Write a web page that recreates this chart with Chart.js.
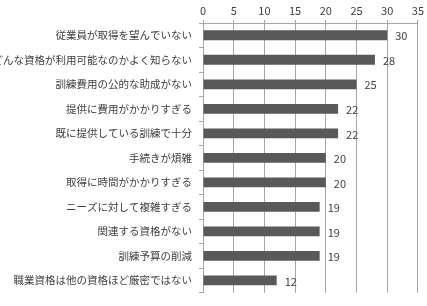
<!DOCTYPE html>
<html>
<head>
<meta charset="utf-8">
<script src="https://cdn.jsdelivr.net/npm/chart.js@4.4.1/dist/chart.umd.min.js"></script>
<style>
  html, body { margin: 0; padding: 0; background: #fff; }
  #wrap { width: 427px; height: 306px; position: relative; }
</style>
</head>
<body>
<div id="wrap"><canvas id="chart"></canvas></div>
<script>
// reasons (top to bottom) and counts
const categories = [
  '従業員が取得を望んでいない',
  'どんな資格が利用可能なのかよく知らない',
  '訓練費用の公的な助成がない',
  '提供に費用がかかりすぎる',
  '既に提供している訓練で十分',
  '手続きが煩雑',
  '取得に時間がかかりすぎる',
  'ニーズに対して複雑すぎる',
  '関連する資格がない',
  '訓練予算の削減',
  '職業資格は他の資格ほど厳密ではない'
];
const counts = [30, 28, 25, 22, 22, 20, 20, 19, 19, 19, 12];
const xTicks = [0, 5, 10, 15, 20, 25, 30, 35];

const FONT = '"Noto Sans CJK JP", "Noto Sans", sans-serif';
const GRID = '#a6a6a6';

// number next to each bar end
const valueLabels = {
  id: 'valueLabels',
  afterDatasetsDraw(chart) {
    const ctx = chart.ctx;
    const meta = chart.getDatasetMeta(0);
    ctx.save();
    ctx.font = '11px ' + FONT;
    ctx.fillStyle = '#404040';
    ctx.textAlign = 'left';
    ctx.textBaseline = 'middle';
    meta.data.forEach((bar, i) => {
      ctx.fillText(String(counts[i]), bar.x + 8, bar.y + 1);
    });
    ctx.restore();
  }
};

new Chart(document.getElementById('chart'), {
  type: 'bar',
  data: {
    labels: categories,
    datasets: [{
      data: counts,
      backgroundColor: '#595959',
      borderWidth: 0,
      barPercentage: 0.8,
      categoryPercentage: 0.5
    }]
  },
  options: {
    indexAxis: 'y',
    responsive: true,
    maintainAspectRatio: false,
    animation: false,
    layout: { padding: { top: 0, right: 6, bottom: 9, left: 0 } },
    plugins: {
      legend: { display: false },
      tooltip: { enabled: false }
    },
    scales: {
      x: {
        position: 'top',
        min: 0,
        max: 35,
        afterBuildTicks: axis => { axis.ticks = xTicks.map(v => ({ value: v })); },
        afterFit: axis => { axis.height = 23; },
        grid: { color: GRID, tickLength: 3, lineWidth: 1 },
        border: { color: GRID },
        ticks: {
          color: '#404040',
          font: { family: FONT, size: 11 },
          padding: 3,
          maxRotation: 0
        }
      },
      y: {
        afterFit: axis => { axis.width = 203; },
        grid: { color: GRID, drawOnChartArea: false, tickLength: 4, offset: true },
        border: { color: GRID },
        ticks: {
          color: '#404040',
          font: { family: FONT, size: 10.5 },
          padding: 7,
          autoSkip: false
        }
      }
    }
  },
  plugins: [valueLabels]
});
</script>
</body>
</html>
